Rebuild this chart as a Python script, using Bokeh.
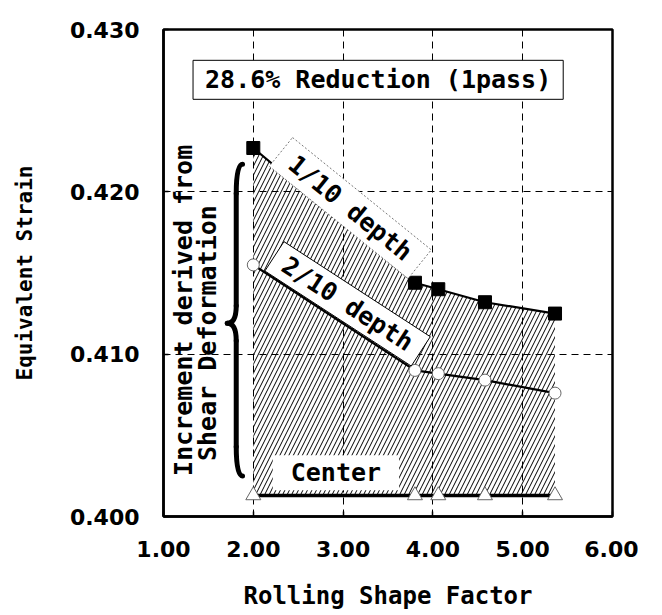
from bokeh.plotting import figure
from bokeh.models import Range1d, FixedTicker, NumeralTickFormatter
from bokeh.core.properties import value
from bokeh.embed import file_html
from bokeh.resources import INLINE

# ---- data ----
shape_factor = [2.00, 3.80, 4.06, 4.58, 5.36]
depth_1_10 = [0.4227, 0.4144, 0.4140, 0.4132, 0.4125]
depth_2_10 = [0.4155, 0.4090, 0.4088, 0.4084, 0.4076]
center = [0.4013, 0.4013, 0.4013, 0.4013, 0.4013]

x_ticks = [1, 2, 3, 4, 5, 6]
y_ticks = [0.400, 0.410, 0.420, 0.430]

MONO = value("DejaVu Sans Mono")
SANS = "DejaVu Sans"

p = figure(width=646, height=599, output_backend="svg", toolbar_location=None,
           x_range=Range1d(1, 6), y_range=Range1d(0.400, 0.430),
           frame_width=449, frame_height=487,
           min_border_left=163, min_border_top=29, min_border_right=26, min_border_bottom=60)
p.background_fill_color = "white"
p.border_fill_color = "white"
p.outline_line_color = "black"
p.outline_line_width = 2.5

# axes
p.xaxis.ticker = FixedTicker(ticks=x_ticks)
p.yaxis.ticker = FixedTicker(ticks=y_ticks)
p.xaxis.formatter = NumeralTickFormatter(format="0.00")
p.yaxis.formatter = NumeralTickFormatter(format="0.000")
for ax in (p.xaxis, p.yaxis):
    ax.axis_line_color = "black"
    ax.axis_line_width = 2.5
    ax.major_tick_in = 5
    ax.major_tick_out = 0
    ax.major_tick_line_width = 1.5
    ax.minor_tick_line_color = None
    ax.major_label_text_font = SANS
    ax.major_label_text_font_style = "bold"
    ax.major_label_text_font_size = "22px"
    ax.major_label_text_color = "black"
    ax.major_label_standoff = 24
    ax.axis_label_text_font = "DejaVu Sans Mono"
    ax.axis_label_text_font_style = "bold"
    ax.axis_label_text_color = "black"
p.xaxis.axis_label = "Rolling Shape Factor"
p.xaxis.axis_label_text_font_size = "24px"
p.xaxis.axis_label_standoff = 22
p.yaxis.axis_label = "Equivalent Strain"
p.yaxis.axis_label_text_font_size = "21px"
p.yaxis.axis_label_standoff = 30

# grid
p.grid.grid_line_color = "black"
p.grid.grid_line_width = 1
p.grid.grid_line_dash = "7 5"
p.grid.level = "underlay"

# hatched increment region between 1/10 depth and center
patch_x = shape_factor + shape_factor[::-1]
patch_y = depth_1_10 + center[::-1]
hatch = p.patch(patch_x, patch_y, fill_color=None, line_color=None,
                hatch_pattern="/", hatch_color="black", hatch_scale=9, hatch_weight=1.0)
hatch.level = "image"

# curves
p.line(shape_factor, depth_1_10, line_color="black", line_width=2.2)
p.line(shape_factor, depth_2_10, line_color="black", line_width=2.2)
p.line(shape_factor, center, line_color="black", line_width=3.5)

# markers
p.scatter(shape_factor, depth_1_10, marker="square", size=13, fill_color="black", line_color="black")
p.scatter(shape_factor, depth_2_10, marker="circle", size=12, fill_color="white",
          line_color="#666666", line_width=1)
p.scatter(shape_factor, center, marker="triangle", size=15, fill_color="white",
          line_color="#666666", line_width=1)

# labels
p.text(x=[3.39], y=[0.4269], text=["28.6% Reduction (1pass)"], text_font=MONO,
       text_font_size="25px", text_font_style="bold", text_align="center", text_baseline="middle",
       background_fill_color="white", border_line_color="black", border_line_width=1,
       padding=dict(left=12, right=12, top=5, bottom=5))
p.text(x=[3.08], y=[0.4190], text=["1/10 depth"], angle=[-39], angle_units="deg", text_font=MONO,
       text_font_size="25px", text_font_style="bold", text_align="center", text_baseline="middle",
       background_fill_color="white", border_line_color="#777777", border_line_width=1,
       border_line_dash="2 2", padding=dict(left=14, right=14, top=4, bottom=4))
p.text(x=[3.05], y=[0.4131], text=["2/10 depth"], angle=[-33], angle_units="deg", text_font=MONO,
       text_font_size="25px", text_font_style="bold", text_align="center", text_baseline="middle",
       background_fill_color="white", border_line_color="black", border_line_width=1,
       padding=dict(left=12, right=12, top=3, bottom=3))
p.text(x=[2.92], y=[0.4027], text=["Center"], text_font=MONO,
       text_font_size="25px", text_font_style="bold", text_align="center", text_baseline="middle",
       background_fill_color="white", padding=dict(left=18, right=18, top=3, bottom=3))

p.text(x=[1.223], y=[0.4127], text=["Increment derived from"], angle=[90], angle_units="deg",
       text_font=MONO, text_font_size="25px", text_font_style="bold",
       text_align="center", text_baseline="middle")
p.text(x=[1.49], y=[0.4113], text=["Shear Deformation"], angle=[90], angle_units="deg",
       text_font=MONO, text_font_size="25px", text_font_style="bold",
       text_align="center", text_baseline="middle")

# curly brace
bx_end, bx_spine, bx_tip = 1.88, 1.81, 1.71
by_top, by_mid, by_bot = 0.4217, 0.4119, 0.4025
dy = 0.0018
p.quadratic(x0=[bx_end, bx_spine, bx_end, bx_spine],
            y0=[by_top, by_mid + dy * 0.6, by_bot, by_mid - dy * 0.6],
            x1=[bx_spine, bx_tip, bx_spine, bx_tip],
            y1=[by_top - dy, by_mid, by_bot + dy, by_mid],
            cx=[bx_spine, bx_spine, bx_spine, bx_spine],
            cy=[by_top, by_mid, by_bot, by_mid],
            line_color="black", line_width=5, line_cap="round")
p.segment(x0=[bx_spine, bx_spine], y0=[by_top - dy, by_bot + dy],
          x1=[bx_spine, bx_spine], y1=[by_mid + dy * 0.6, by_mid - dy * 0.6],
          line_color="black", line_width=5, line_cap="round")

open("out.html", "w").write(file_html(p, INLINE))
